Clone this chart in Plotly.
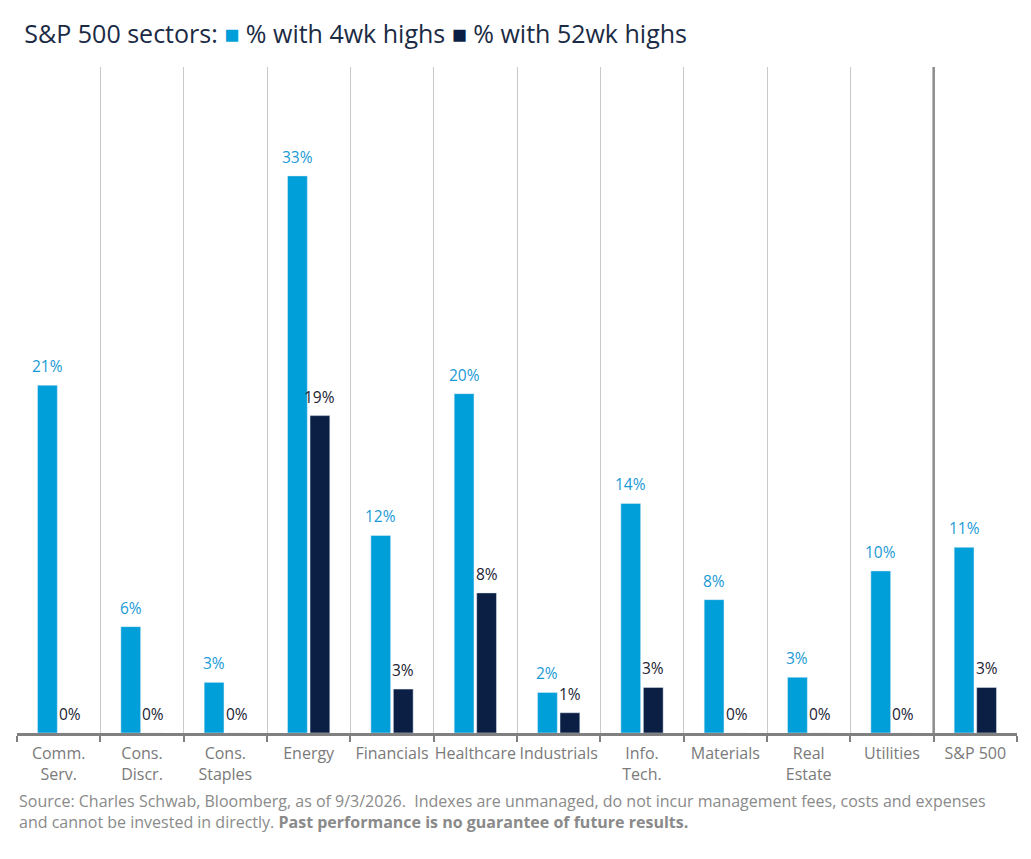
import plotly.graph_objects as go

# Sector labels and % of stocks at new highs
sectors = [
    "Comm.<br>Serv.",
    "Cons.<br>Discr.",
    "Cons.<br>Staples",
    "Energy",
    "Financials",
    "Healthcare",
    "Industrials",
    "Info.<br>Tech.",
    "Materials",
    "Real<br>Estate",
    "Utilities",
    "S&P 500",
]
highs_4wk = [20.6, 6.3, 3.0, 33.0, 11.7, 20.1, 2.4, 13.6, 7.9, 3.3, 9.6, 11.0]
highs_52wk = [0.0, 0.0, 0.0, 18.8, 2.6, 8.3, 1.2, 2.7, 0.0, 0.0, 0.0, 2.7]

LIGHT = "#009fda"
DARK = "#0b1f45"
GREY = "#808080"
FONT = "Open Sans"

BARGAP = 0.46
GROUPGAP = 0.12
PLOT_W = 1000  # plot area width in px
slot = PLOT_W / len(sectors) * (1 - BARGAP) / 2
shift = slot / 2  # pixel offset of each bar centre from its category centre

fig = go.Figure()
fig.add_trace(go.Bar(x=sectors, y=highs_4wk, marker_color=LIGHT, name="% with 4wk highs"))
fig.add_trace(go.Bar(x=sectors, y=highs_52wk, marker_color=DARK, name="% with 52wk highs"))

# value labels, lifted a bit further above the bars than plotly's own text
labels = []
for series, dx, colour in [(highs_4wk, -shift, "#1a9ad6"), (highs_52wk, shift, "#1b2233")]:
    for cat, val in zip(sectors, series):
        labels.append(
            dict(
                x=cat,
                y=val,
                xref="x",
                yref="y",
                text=f"{val:.0f}%",
                showarrow=False,
                xshift=dx,
                yshift=6,
                yanchor="bottom",
                font=dict(size=15.5, color=colour, family=FONT),
            )
        )

# heavier divider in front of the index column
fig.add_shape(
    type="line",
    xref="x",
    yref="paper",
    x0=len(sectors) - 1.5,
    x1=len(sectors) - 1.5,
    y0=0,
    y1=1,
    line=dict(color="#8c8c8c", width=2.5),
    layer="above",
)

title = (
    "S&P 500 sectors: "
    f"<span style='color:{LIGHT}'>■</span> % with 4wk highs "
    f"<span style='color:{DARK}'>■</span> % with 52wk highs"
)
footer = (
    "Source: Charles Schwab, Bloomberg, as of 9/3/2026.  Indexes are unmanaged, "
    "do not incur management fees, costs and expenses<br>and cannot be invested "
    "in directly. <b>Past performance is no guarantee of future results.</b>"
)

# page body adds an 8px offset, so the figure is sized to fit inside the window
fig.update_layout(
    width=1023,
    height=851,
    paper_bgcolor="white",
    plot_bgcolor="white",
    margin=dict(l=9, r=14, t=59, b=126),
    showlegend=False,
    barmode="group",
    bargap=BARGAP,
    bargroupgap=GROUPGAP,
    font=dict(family=FONT),
    title=dict(
        text=title,
        x=0.016,
        xanchor="left",
        y=0.969,
        yanchor="middle",
        font=dict(size=25, color="#1b2b45", family=FONT),
    ),
    xaxis=dict(
        type="category",
        tickson="boundaries",
        tickangle=0,
        showgrid=True,
        gridcolor="#c9c9c9",
        gridwidth=1,
        showline=True,
        linecolor=GREY,
        linewidth=3,
        ticks="outside",
        ticklen=6,
        tickwidth=2,
        tickcolor=GREY,
        ticklabelstandoff=4,
        tickfont=dict(size=16, color="#7a7a7a", family=FONT),
        automargin=False,
        fixedrange=True,
    ),
    yaxis=dict(
        range=[0, 39.45],
        visible=False,
        showgrid=False,
        zeroline=False,
        fixedrange=True,
    ),
    annotations=labels
    + [
        dict(
            text=footer,
            xref="paper",
            yref="paper",
            x=0.0,
            y=-0.083,
            xanchor="left",
            yanchor="top",
            align="left",
            showarrow=False,
            font=dict(size=16, color="#8a8a8a", family=FONT),
        )
    ],
)

fig.write_html("out.html")
